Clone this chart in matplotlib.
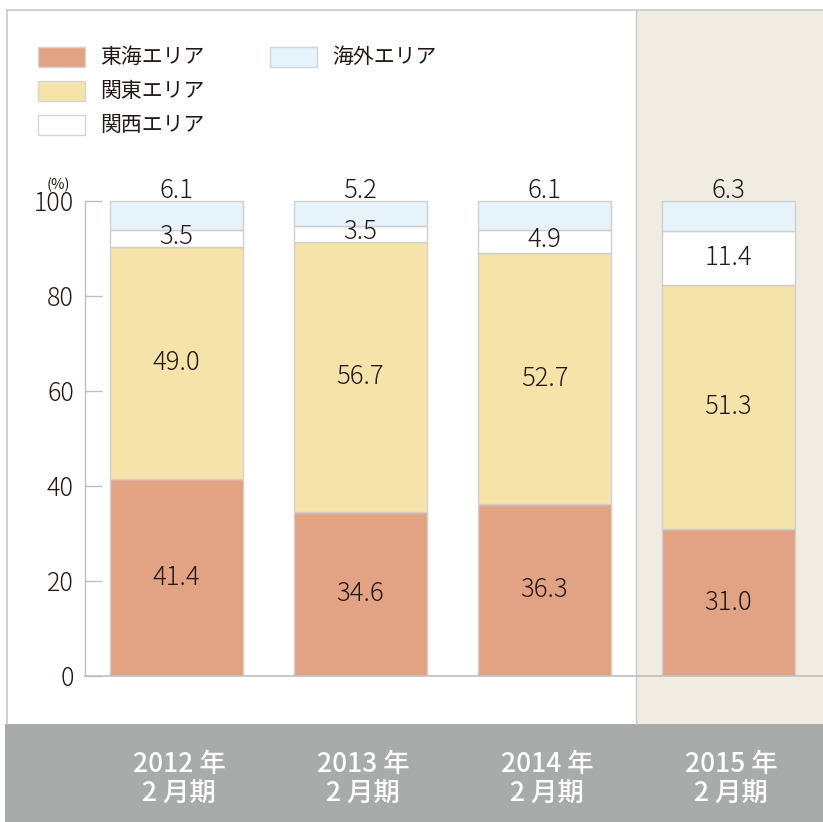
import matplotlib
matplotlib.use("Agg")
import matplotlib.pyplot as plt
from matplotlib.patches import Rectangle

plt.rcParams['font.family'] = ['Noto Sans CJK JP', 'DejaVu Sans']

periods = ["2012 年\n2 月期", "2013 年\n2 月期", "2014 年\n2 月期", "2015 年\n2 月期"]
series_names = ["東海エリア", "関東エリア", "関西エリア", "海外エリア"]
tokai = [41.4, 34.6, 36.3, 31.0]
kanto = [49.0, 56.7, 52.7, 51.3]
kansai = [3.5, 3.5, 4.9, 11.4]
kaigai = [6.1, 5.2, 6.1, 6.3]
yticks = [0, 20, 40, 60, 80, 100]

colors = ["#e2a385", "#f5e3aa", "#ffffff", "#e6f3fb"]
edge = "#cfcfcf"
text_c = "#231815"

W, H = 823, 822
fig = plt.figure(figsize=(W / 100, H / 100), dpi=100)

# background layer in pixel coordinates (y down)
bg = fig.add_axes([0, 0, 1, 1], zorder=-1)
bg.set_xlim(0, W)
bg.set_ylim(H, 0)
bg.axis("off")
bg.add_patch(Rectangle((636, 10), W - 636, 714, facecolor="#f0ece2", edgecolor="none"))
bg.add_patch(Rectangle((5, 724), W - 5, H - 724, facecolor="#a9abaa", edgecolor="none"))
bg.plot([7, W], [10, 10], color="#c8c8c8", lw=1.2)
bg.plot([7, 7], [10, 724], color="#c8c8c8", lw=1.2)
bg.plot([636, 636], [10, 724], color="#c8c8c8", lw=1.0)

# legend
leg = [(38, 57, 0), (38, 91, 1), (38, 125, 2), (270, 57, 3)]
for x0, yc, k in leg:
    bg.add_patch(Rectangle((x0, yc - 10), 47, 20, facecolor=colors[k], edgecolor="#d5d5d5", lw=1.0))
    bg.text(x0 + 62, yc, series_names[k], ha="left", va="center", fontsize=15, color=text_c)

# main axes: y=0 at 676px, y=100 at 201px
unit = (676 - 201) / 100
ytop = (676 - 10) / unit
ax = fig.add_axes([85 / W, 1 - 676 / H, 1 - 85 / W, (676 - 10) / H])
ax.patch.set_alpha(0)
ax.set_ylim(0, ytop)
step = 184
ax.set_xlim(-(176.5 - 85) / step, (823 - 176.5) / step)

xs = list(range(len(periods)))
bw = 133 / step
bottoms = [0] * len(xs)
for vals, col in zip([tokai, kanto, kansai, kaigai], colors):
    ax.bar(xs, vals, bw, bottom=bottoms, color=col, edgecolor=edge, linewidth=1.0, zorder=2)
    bottoms = [b + v for b, v in zip(bottoms, vals)]

for i in xs:
    b = 0
    for j, vals in enumerate([tokai, kanto, kansai, kaigai]):
        v = vals[i]
        if j == 3:
            y = 100 + 2.2
        elif j == 2 and v < 8:
            y = b + v / 2 + 0.4
        else:
            y = b + v / 2
        ax.text(i, y, f"{v:.1f}", ha="center", va="center", fontsize=18.5, fontweight="light",
                color=text_c, zorder=5)
        b += v

for s in ["top", "right"]:
    ax.spines[s].set_visible(False)
ax.spines["left"].set_bounds(0, 100)
ax.spines["left"].set_color("#bfbfbf")
ax.spines["bottom"].set_color("#bfbfbf")
ax.spines["left"].set_linewidth(1.0)
ax.spines["bottom"].set_linewidth(1.2)

ax.set_yticks(yticks)
ax.set_yticklabels([str(t) for t in yticks], fontsize=18, fontweight="light", color=text_c)
ax.tick_params(axis="y", direction="in", length=12, width=1.0, color="#bfbfbf", pad=8)
ax.set_xticks([])
bg.text(58, 185, "(%)", ha="center", va="center", fontsize=10.5, color=text_c)

# category labels in gray band
for i, p in enumerate(periods):
    xpx = 179 + i * step
    bg.text(xpx, 779, p, ha="center", va="center", fontsize=19, fontweight="medium",
            color="white", linespacing=1.1)

fig.savefig("out.png", dpi=100)
